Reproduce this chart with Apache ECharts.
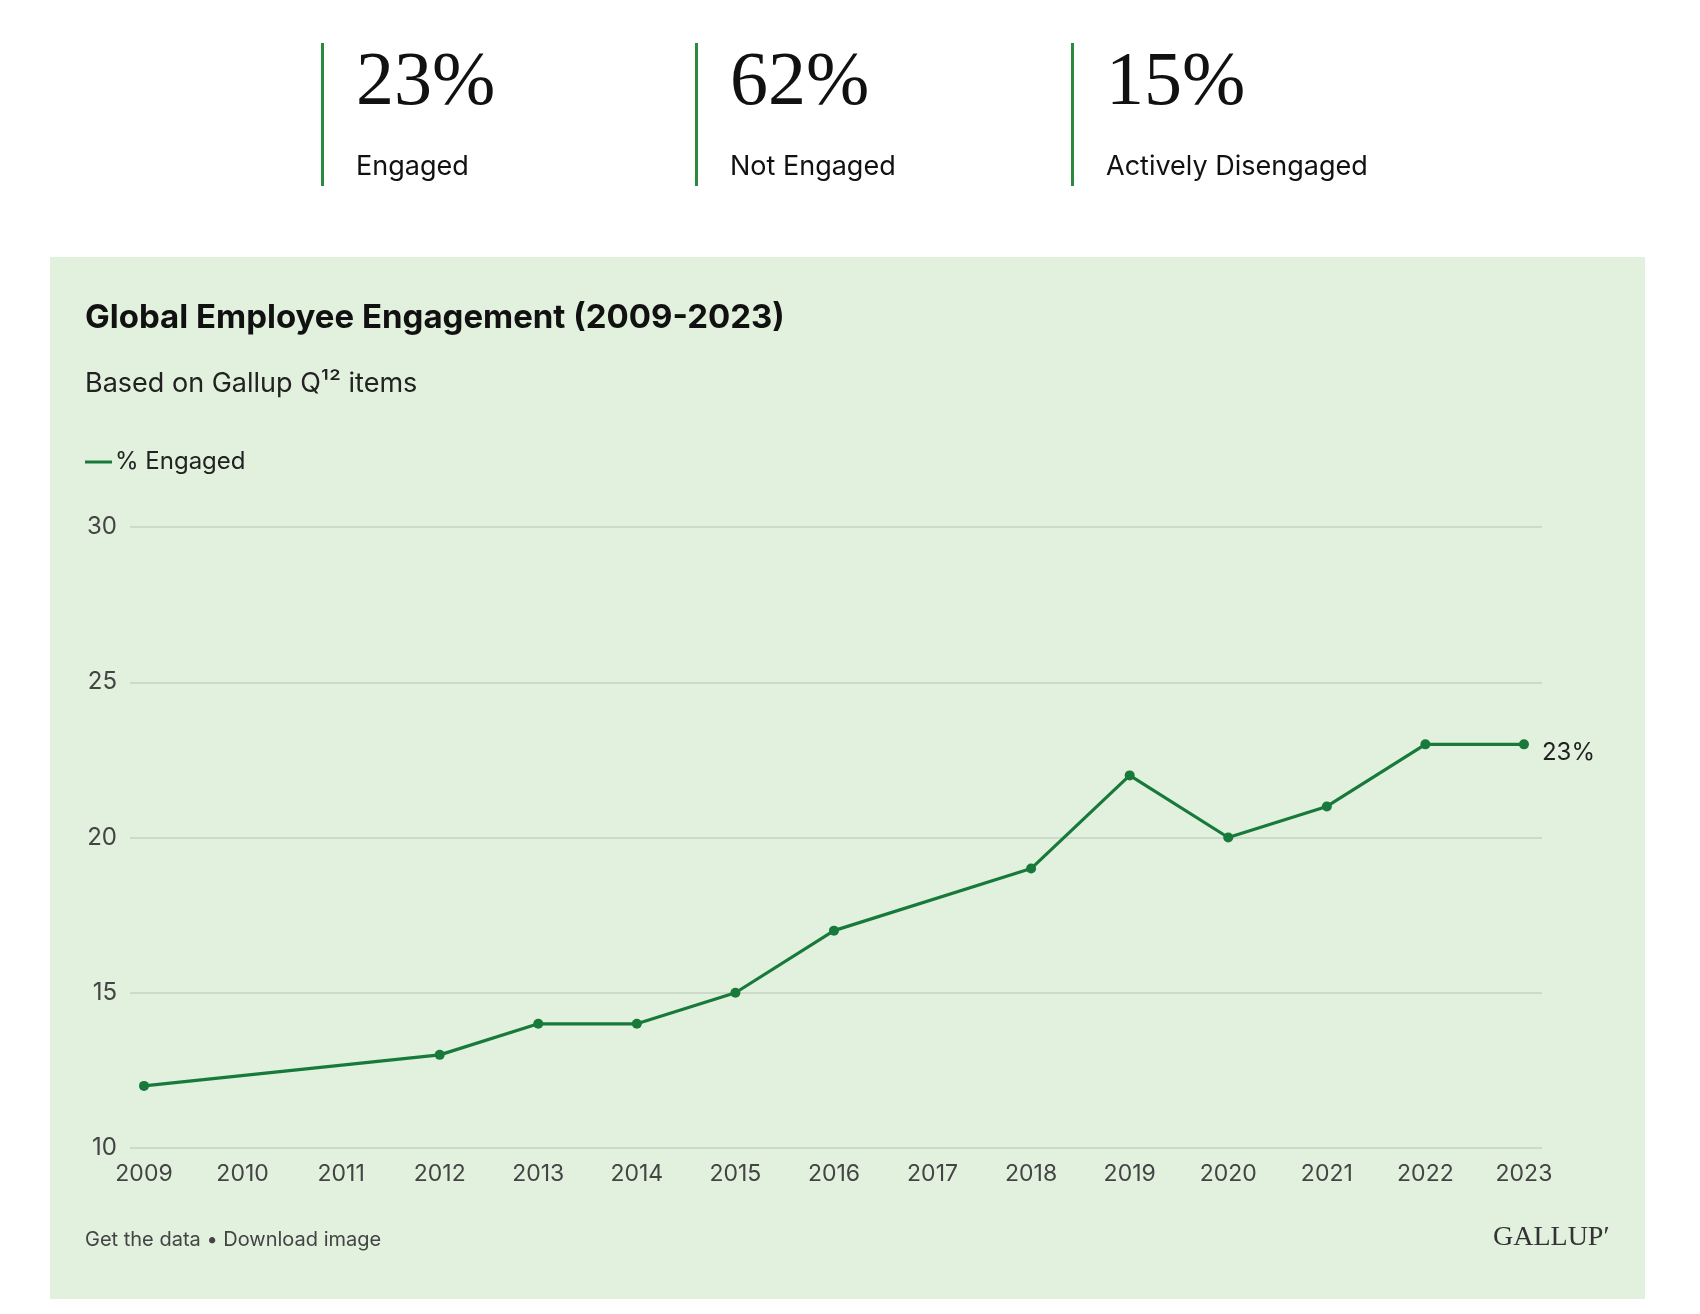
<!DOCTYPE html>
<html>
<head>
<meta charset="utf-8">
<script src="https://cdn.jsdelivr.net/npm/echarts@6/dist/echarts.min.js"></script>
<style>
html,body{margin:0;padding:0;background:#fff;}
#chart{width:1700px;height:1314px;}
</style>
</head>
<body>
<div id="chart"></div>
<script>
// ---- data ----
const statValues = ['23%', '62%', '15%'];
const statLabels = ['Engaged', 'Not Engaged', 'Actively Disengaged'];
const years = [2009, 2012, 2013, 2014, 2015, 2016, 2018, 2019, 2020, 2021, 2022, 2023];
const engaged = [12, 13, 14, 14, 15, 17, 19, 22, 20, 21, 23, 23];
const yTicks = [10, 15, 20, 25, 30];
const seriesName = '% Engaged';
const titleText = 'Global Employee Engagement (2009-2023)';
const subtitleText = 'Based on Gallup Q\u00B9\u00B2 items';
const footerText = 'Get the data \u2022 Download image';

const SANS = 'Inter, "Noto Sans", sans-serif';
const GREEN = '#177a3b';

const chart = echarts.init(document.getElementById('chart'), null, {renderer: 'canvas'});

const statX = [321, 695, 1071];
const graphic = [
  {type: 'rect', z: -10, silent: true, shape: {x: 50, y: 257, width: 1595, height: 1042}, style: {fill: '#e2f0de'}}
];
statValues.forEach((v, i) => {
  graphic.push({type: 'rect', shape: {x: statX[i], y: 43, width: 3, height: 143}, style: {fill: '#2b8a3e'}});
  graphic.push({type: 'text', x: statX[i] + 35, y: 122, style: {text: v, font: '76px "Liberation Serif", "DejaVu Serif", serif', fill: '#111', textVerticalAlign: 'bottom'}});
  graphic.push({type: 'text', x: statX[i] + 35, y: 167, style: {text: statLabels[i], font: '27px ' + SANS, fill: '#111', textVerticalAlign: 'middle'}});
});
graphic.push({type: 'text', x: 85, y: 318, style: {text: titleText, font: 'bold 33px ' + SANS, fill: '#111', textVerticalAlign: 'middle'}});
graphic.push({type: 'text', x: 85, y: 384, style: {text: subtitleText, font: '27px ' + SANS, fill: '#222', textVerticalAlign: 'middle'}});
graphic.push({type: 'text', x: 85, y: 1240, style: {text: footerText, font: '20px ' + SANS, fill: '#444', textVerticalAlign: 'middle'}});
graphic.push({type: 'text', x: 1493, y: 1238, style: {text: 'GALLUP\u2032', font: '28px "Liberation Serif", "DejaVu Serif", serif', fill: '#333', textVerticalAlign: 'middle'}});

const option = {
  animation: false,
  graphic: graphic,
  legend: {
    left: 85, top: 450, padding: 0,
    icon: 'rect', itemWidth: 27, itemHeight: 3, itemGap: 6,
    textStyle: {fontSize: 24, color: '#222', fontFamily: SANS, padding: [0, 0, 0, -2]},
    data: [seriesName]
  },
  grid: {left: 130, right: 158, top: 527, bottom: 166},
  xAxis: {
    type: 'value',
    min: 2008.858, max: 2023.183,
    minInterval: 1, maxInterval: 1, splitNumber: 14,
    axisLine: {show: false}, axisTick: {show: false}, splitLine: {show: false},
    axisLabel: {
      fontSize: 23, color: '#444', fontFamily: SANS, margin: 15,
      formatter: v => (Math.abs(v - Math.round(v)) < 1e-6 ? String(Math.round(v)) : '')
    }
  },
  yAxis: {
    type: 'value', min: yTicks[0], max: yTicks[yTicks.length - 1], interval: 5,
    axisLine: {show: false}, axisTick: {show: false},
    splitLine: {lineStyle: {color: '#c6d3c2', width: 1.5}},
    axisLabel: {fontSize: 24, color: '#444', fontFamily: SANS, margin: 13}
  },
  series: [{
    name: seriesName,
    type: 'line',
    data: years.map((y, i) => {
      const d = {value: [y, engaged[i]]};
      if (i === years.length - 1) {
        d.label = {show: true, position: 'right', distance: 13, offset: [0, 8], fontSize: 24, color: '#222', fontFamily: SANS,
          formatter: p => p.value[1] + '%'};
      }
      return d;
    }),
    color: GREEN,
    lineStyle: {width: 3.2, color: GREEN},
    itemStyle: {color: GREEN},
    symbol: 'circle', symbolSize: 10
  }]
};
chart.setOption(option);
</script>
</body>
</html>
